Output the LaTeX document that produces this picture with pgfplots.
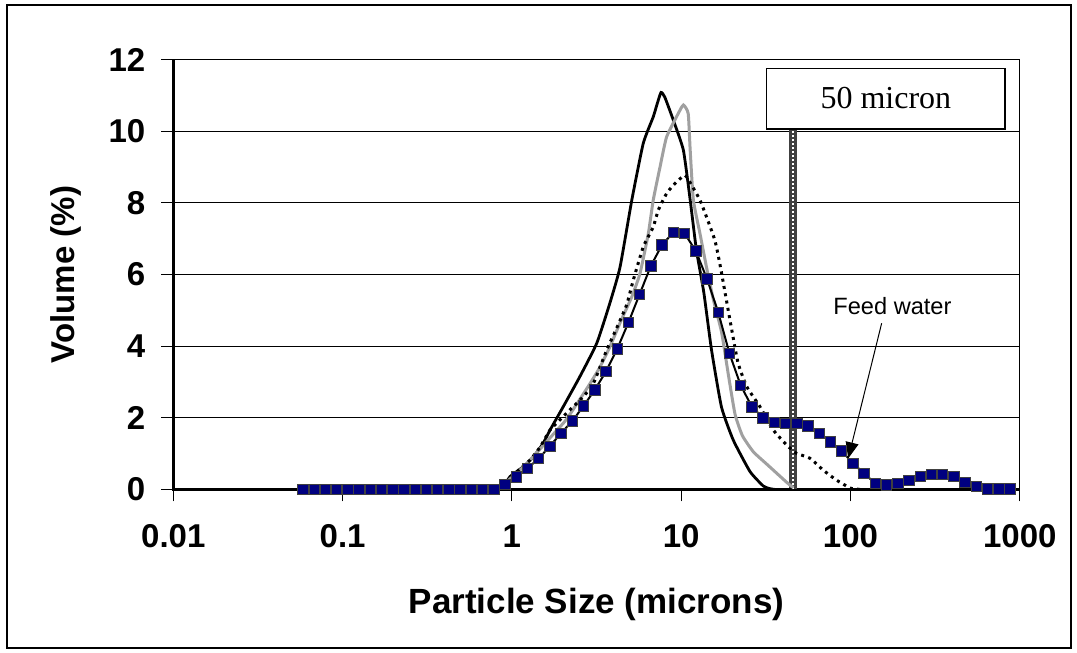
\documentclass[border=0pt]{standalone}
\usepackage{pgfplots}
\pgfplotsset{compat=1.18}
\usetikzlibrary{arrows.meta}
\usepackage{fontspec}
\setmainfont{Liberation Sans}
\newfontfamily\timesf{Liberation Serif}
\definecolor{navyb}{RGB}{0,0,128}
\definecolor{grayc}{RGB}{160,160,160}
\begin{document}
\begin{tikzpicture}
\useasboundingbox (0,0) rectangle (538.5pt,326.5pt);
\draw[line width=1pt] (3.5pt,2.5pt) rectangle (535.5pt,324pt);
\begin{axis}[
 at={(86.65pt,81.75pt)}, anchor=south west,
 scale only axis, width=423.25pt, height=215pt,
 xmode=log, xmin=0.01, xmax=1000, ymin=0, ymax=12,
 xtick={0.01,0.1,1,10,100,1000}, xticklabels={0.01,0.1,1,10,100,1000},
 ytick={0,2,4,6,8,10,12}, yticklabels={0,2,4,6,8,10,12},
 xminorticks=false, yminorticks=false,
 tick pos=left, tick align=outside, major tick length=6pt,
 tick style={black, line width=0.6pt},
 ymajorgrids, grid style={black, line width=0.6pt},
 axis line style={line width=0.6pt},
 ticklabel style={font=\bfseries\fontsize{16.5}{18}\selectfont},
 yticklabel style={xshift=-4.5pt},
 xticklabel style={yshift=-8pt},
 xlabel={Particle Size (microns)}, ylabel={Volume (\%)},
 xlabel style={font=\bfseries\fontsize{17.5}{20}\selectfont, at={(axis description cs:0.5,-0.2895)}, anchor=base},
 ylabel style={font=\bfseries\fontsize{16.5}{20}\selectfont, at={(axis description cs:-0.1273,0.5)}, anchor=center},
 clip=false,
]
\draw[line width=1.5pt] (rel axis cs:0,1) -- (rel axis cs:0,0) -- (rel axis cs:1,0);
\draw[line width=3.8pt, black!75] (axis cs:45.6,0) -- (axis cs:45.6,10.06);
\draw[line width=1.1pt, white, dash pattern=on 1pt off 1pt] (axis cs:45.6,0) -- (axis cs:45.6,10.06);
% black solid
\addplot[black, line width=1.4pt, smooth, tension=0.3, no marks] coordinates {
(0.78,0) (0.91,0.15) (0.975,0.36) (1.17,0.64) (1.34,0.91) (1.53,1.29) (1.68,1.66) (2.01,2.31) (2.52,3.15) (3.17,4.08) (3.79,5.2) (4.35,6.2) (5.11,8.08) (5.97,9.66) (6.84,10.40) (7.2,10.75) (7.6,11.08) (8.0,10.95) (8.98,10.31) (10.3,9.47) (11.3,8.08) (12.3,6.68) (13.6,5.5) (15.1,3.9) (17.3,2.3) (20.3,1.38) (25.5,0.50) (30.5,0.10) (33,0.03) (36,0) (45,0)
};
% gray solid
\addplot[grayc, line width=1.5pt, smooth, tension=0.3, no marks] coordinates {
(0.78,0) (0.95,0.25) (1.2,0.68) (1.5,1.18) (1.8,1.6) (2.11,1.97) (2.8,2.85) (3.3,3.4) (3.79,3.98) (4.4,4.7) (5.11,5.38) (5.71,6.03) (6.40,7.15) (6.84,8.08) (7.5,9.0) (8.2,9.84) (9.6,10.49) (10.3,10.73) (11.0,10.49) (11.3,9.47) (11.8,8.08) (12.9,7.15) (14.1,6.21) (15.5,5.29) (17.3,4.4) (19.0,3.2) (20.8,2.1) (23,1.5) (26.7,1.05) (32.5,0.68) (42,0.2) (46,0.05)
};
% dotted
\addplot[black, line width=1.5pt, dash pattern=on 1.5pt off 2.2pt, smooth, tension=0.3, no marks] coordinates {
(0.78,0) (0.95,0.25) (1.1,0.55) (1.28,0.82) (1.47,1.19) (1.68,1.66) (1.92,1.94) (2.20,2.22) (2.64,2.59) (3.03,2.96) (3.63,3.89) (4.2,4.55) (4.76,5.15) (5.21,5.84) (5.97,6.77) (6.84,7.33) (7.33,7.80) (8.2,8.26) (8.98,8.49) (10.5,8.77) (11.5,8.5) (12.9,8.08) (14.1,7.61) (15.8,6.96) (16.9,6.31) (18.2,5.47) (19.9,4.45) (21.7,3.52) (24.4,2.87) (29.2,2.31) (35.0,1.66) (42,1.24) (48,1.01) (57.7,0.87) (69,0.54) (82.8,0.26) (101,0.03) (120,0)
};
% feed water
\addplot[black, line width=1pt, mark=square*, mark size=2.6pt, mark options={fill=navyb, draw=black!75, line width=0.4pt, solid}] coordinates {
(0.0583,0) (0.0679,0) (0.0791,0) (0.0922,0) (0.1074,0) (0.1251,0) (0.1457,0) (0.1698,0) (0.1978,0) (0.2304,0) (0.2684,0) (0.3126,0) (0.3642,0) (0.4242,0) (0.4942,0) (0.5757,0) (0.6706,0) (0.7812,0)
(0.910,0.15) (1.060,0.35) (1.235,0.59) (1.438,0.86) (1.676,1.21) (1.952,1.57) (2.274,1.91) (2.649,2.33) (3.086,2.78) (3.594,3.29) (4.187,3.92) (4.878,4.66) (5.682,5.45) (6.619,6.24) (7.710,6.83) (8.982,7.17) (10.46,7.15) (12.19,6.66) (14.20,5.88) (16.54,4.95) (19.27,3.80) (22.44,2.91) (26.14,2.31) (30.46,2.00) (35.48,1.88) (41.33,1.85) (48.14,1.85) (56.08,1.77) (65.33,1.57) (76.10,1.33) (88.65,1.08) (103.3,0.73) (120.3,0.45) (140.1,0.17) (163.2,0.13) (190.2,0.17) (221.5,0.25) (258.0,0.36) (300.6,0.42) (350.2,0.42) (407.9,0.36) (475.2,0.19) (553.5,0.08) (644.8,0.02) (751.2,0.02) (875.0,0.02)
};
\draw[fill=white, line width=0.75pt] (axis cs:32,10.06) rectangle (axis cs:818.6,11.75);
\node[font=\timesf\fontsize{16}{18}\selectfont, inner sep=0pt] at (axis cs:161.8,10.92) {50 micron};
\node[font=\fontsize{11.8}{14}\selectfont, inner sep=0pt] at (axis cs:177,5.12) {Feed water};
\draw[-{Triangle[length=8pt,width=6.5pt]}, line width=0.5pt] (axis cs:152.8,4.64) -- (axis cs:97,0.87);
\end{axis}
\end{tikzpicture}
\end{document}
